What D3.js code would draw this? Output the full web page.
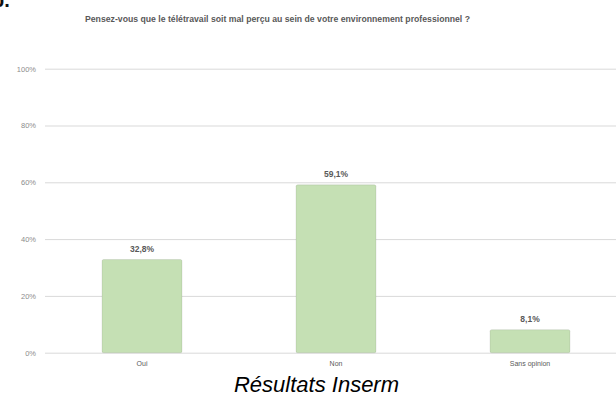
<!DOCTYPE html>
<html>
<head>
<meta charset="utf-8">
<script src="https://cdn.jsdelivr.net/npm/d3@7"></script>
<style>
  html, body { margin: 0; padding: 0; background: #ffffff; }
  svg { display: block; }
</style>
</head>
<body>
<svg id="chart" width="616" height="396"></svg>
<script>
// Survey answers and their shares
const categories = ["Oui", "Non", "Sans opinion"];
const shares = [0.328, 0.591, 0.081];
const shareLabels = ["32,8%", "59,1%", "8,1%"];
const yTicks = [0, 0.2, 0.4, 0.6, 0.8, 1.0];
const yTickLabels = ["0%", "20%", "40%", "60%", "80%", "100%"];
const title = "Pensez-vous que le télétravail soit mal perçu au sein de votre environnement professionnel ?";
const caption = "Résultats Inserm";

const svg = d3.select("#chart");
const W = 616, H = 396;
const plot = { left: 45, right: 627, top: 68.7, bottom: 352.7 };

const x = d3.scaleBand()
  .domain(categories)
  .range([plot.left, plot.right])
  .paddingInner(0.588)
  .paddingOuter(0.294);

const y = d3.scaleLinear()
  .domain([0, 1])
  .range([plot.bottom, plot.top]);

const g = svg.append("g");

// Heading fragment at the top-left edge
svg.append("text")
  .attr("x", -8).attr("y", 7)
  .attr("font-family", "Liberation Sans, Arial, sans-serif")
  .attr("font-weight", "bold")
  .attr("font-size", 20)
  .attr("fill", "#111")
  .text("b.");

// Title
g.append("text")
  .attr("x", 277.5).attr("y", 22)
  .attr("text-anchor", "middle")
  .attr("font-family", "Liberation Sans, Arial, sans-serif")
  .attr("font-weight", "bold")
  .attr("font-size", 9)
  .attr("fill", "#595959")
  .attr("textLength", 385)
  .attr("lengthAdjust", "spacingAndGlyphs")
  .text(title);

// Horizontal gridlines and percentage axis
const yAxis = d3.axisLeft(y)
  .tickValues(yTicks)
  .tickSize(-(W - plot.left))
  .tickPadding(9)
  .tickFormat((d, i) => yTickLabels[i]);

const ya = g.append("g")
  .attr("transform", `translate(${plot.left},0)`)
  .call(yAxis);
ya.select(".domain").remove();
ya.selectAll(".tick line").attr("stroke", "#d9d9d9").attr("stroke-width", 1);
ya.selectAll(".tick text")
  .attr("font-family", "Liberation Sans, Arial, sans-serif")
  .attr("font-size", 7.5)
  .attr("fill", "#8c8c8c");

// Bars
g.selectAll("rect.bar")
  .data(categories)
  .join("rect")
  .attr("class", "bar")
  .attr("x", d => x(d))
  .attr("width", x.bandwidth())
  .attr("y", (d, i) => y(shares[i]))
  .attr("height", (d, i) => y(0) - y(shares[i]))
  .attr("rx", 1.5)
  .attr("fill", "#c5e0b4")
  .attr("stroke", "rgba(0,0,0,0.15)")
  .attr("stroke-width", 0.6);

// Value labels
g.selectAll("text.val")
  .data(categories)
  .join("text")
  .attr("class", "val")
  .attr("x", d => x(d) + x.bandwidth() / 2)
  .attr("y", (d, i) => y(shares[i]) - 8)
  .attr("text-anchor", "middle")
  .attr("font-family", "Liberation Sans, Arial, sans-serif")
  .attr("font-weight", "bold")
  .attr("font-size", 8.5)
  .attr("fill", "#595959")
  .text((d, i) => shareLabels[i]);

// Category axis
const xAxis = d3.axisBottom(x).tickSize(0).tickPadding(8);
const xa = g.append("g")
  .attr("transform", `translate(0,${plot.bottom})`)
  .call(xAxis);
xa.select(".domain").remove();
xa.selectAll(".tick text")
  .attr("font-family", "Liberation Sans, Arial, sans-serif")
  .attr("font-size", 7)
  .attr("fill", "#595959");

// Caption
svg.append("text")
  .attr("x", 316.5).attr("y", 392)
  .attr("text-anchor", "middle")
  .attr("font-family", "Liberation Sans, Arial, sans-serif")
  .attr("font-style", "italic")
  .attr("font-size", 22)
  .attr("fill", "#000")
  .text(caption);
</script>
</body>
</html>
